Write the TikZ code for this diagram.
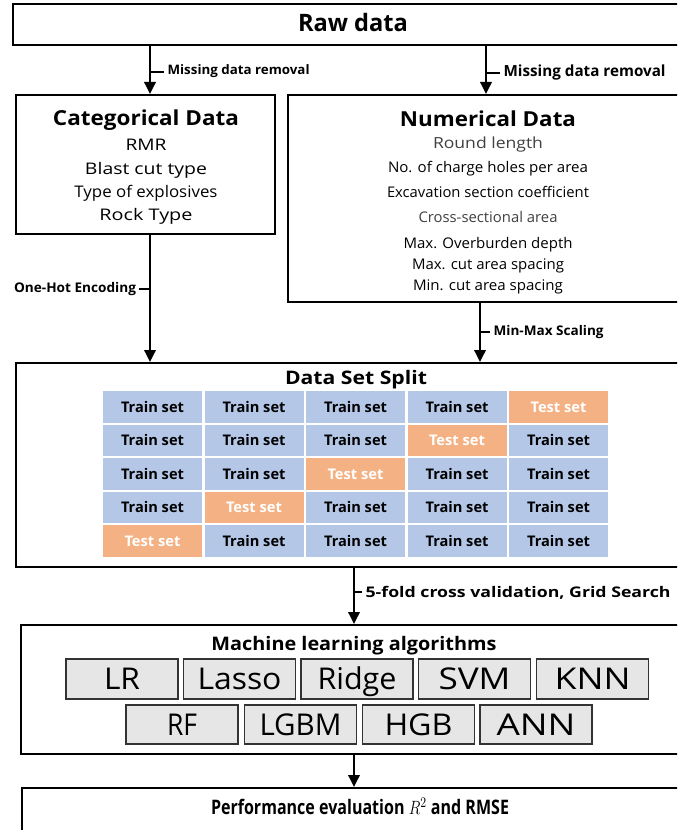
\documentclass[tikz,border=0pt]{standalone}
\usepackage{fontspec}
\setmainfont{Open Sans}
\usetikzlibrary{arrows.meta,fit}
\newlength\pxu \setlength\pxu{0.75pt}
\newcommand{\tx}[3]{{\fontsize{#1}{#1}\selectfont\resizebox{#2\pxu}{\height}{#3}}}
\definecolor{trainc}{HTML}{B4C7E7}
\definecolor{testc}{HTML}{F4B183}
\definecolor{algc}{HTML}{E7E6E6}
\begin{document}
\begin{tikzpicture}[x=0.75pt,y=-0.75pt,
  box/.style={draw, line width=1.5pt, inner sep=0pt, fit={#1}},
  tl/.style={inner sep=0pt, anchor=base},
  lab/.style={inner ysep=0pt, inner xsep=2.5pt, anchor=base west},
  labe/.style={inner ysep=0pt, inner xsep=2pt, anchor=base east},
  arr/.style={line width=1.8pt, -{Triangle[length=9pt,width=8.5pt]}},
  tick/.style={line width=1.5pt},
  cell/.style={inner sep=0pt, minimum width=74.25pt, minimum height=23.7pt, text height=7.8pt, text depth=0pt, fill=#1},
  alg/.style={draw=black!80, line width=0.9pt, fill=algc, inner sep=0pt, minimum width=84pt, minimum height=#1, text height=16pt, text depth=0pt}
]
\useasboundingbox (0,0) rectangle (677,830);
\clip (0,0) rectangle (677,830);
\fill[white] (0,0) rectangle (677,830);

\coordinate (c1) at (150,0);
\coordinate (c2) at (486,0);
\coordinate (c3) at (480,0);
\coordinate (c4) at (354,0);

% boxes
\node[box={(13,4) (700,45)}] (raw) {};
\node[box={(16,95) (275,234)}] (cat) {};
\node[box={(288,95) (700,302)}] (num) {};
\node[box={(16,363) (700,567)}] (split) {};
\node[box={(21,625) (700,754)}] (ml) {};
\node[box={(22,788) (700,850)}] (perf) {};

% texts
\node[tl] (rawt) at (353,32) {\tx{18}{110}{\textbf{Raw data}}};

\node[tl] (catt) at (146,126) {\tx{15.5}{186}{\textbf{Categorical Data}}};
\node[tl] (cat1) at (146,151) {\tx{12}{41}{RMR}};
\node[tl] (cat2) at (146,175) {\tx{12}{122}{Blast cut type}};
\node[tl] (cat3) at (146,198) {\tx{12}{143}{Type of explosives}};
\node[tl] (cat4) at (146,221) {\tx{12}{93}{Rock Type}};

\node[tl] (numt) at (488,127) {\tx{15.5}{176}{\textbf{Numerical Data}}};
\node[tl] (num1) at (488,149) {\tx{11.5}{110}{\textcolor{black!75}{Round length}}};
\node[tl] (num2) at (488,173) {\tx{11}{200}{No. of charge holes per area}};
\node[tl] (num3) at (488,198) {\tx{11}{202}{Excavation section coefficient}};
\node[tl] (num4) at (488,223) {\tx{11}{139}{\textcolor{black!75}{Cross-sectional area}}};
\node[tl] (num5) at (488,248) {\tx{11}{169}{Max. Overburden depth}};
\node[tl] (num6) at (488,269) {\tx{11}{152}{Max. cut area spacing}};
\node[tl] (num7) at (488,290) {\tx{11}{150}{Min. cut area spacing}};

\node[tl] (splitt) at (356,384) {\tx{14}{142}{\textbf{Data Set Split}}};
\node[tl] (mlt) at (354,650) {\tx{14}{285}{\textbf{Machine learning algorithms}}};
\node[tl] (perft) at (360,814) {\tx{15}{298}{\textbf{Performance evaluation} $R^2$ \textbf{and RMSE}}};

% grid
\foreach \r in {1,...,5}{
  \foreach \c in {1,...,5}{
    \pgfmathsetmacro\cx{152.5+(\c-1)*101.5}
    \pgfmathsetmacro\cy{406.8+(\r-1)*33.6}
    \pgfmathtruncatemacro\tst{(\r+\c==6)?1:0}
    \ifnum\tst=1
      \node[cell=testc] (cell-\r-\c) at (\cx,\cy) {\tx{11}{56}{\textcolor{white}{\textbf{Test set}}}};
    \else
      \node[cell=trainc] (cell-\r-\c) at (\cx,\cy) {\tx{11}{63}{\textbf{Train set}}};
    \fi
  }
}

% algorithms
\node[alg=30pt] (lr) at (122,679) {\tx{22.5}{36}{LR}};
\node[alg=30pt] (lasso) at (239.5,679) {\tx{22.5}{84}{Lasso}};
\node[alg=30pt] (ridge) at (357,679) {\tx{22.5}{79}{Ridge}};
\node[alg=30pt] (svm) at (474.5,679) {\tx{22.5}{72}{SVM}};
\node[alg=30pt] (knn) at (592.5,679) {\tx{22.5}{76}{KNN}};
\node[alg=29.25pt] (rf) at (182,724.5) {\tx{22.5}{30}{RF}};
\node[alg=29.25pt] (lgbm) at (300.5,724.5) {\tx{22.5}{82}{LGBM}};
\node[alg=29.25pt] (hgb) at (418.5,724.5) {\tx{22.5}{68}{HGB}};
\node[alg=29.25pt] (ann) at (536,724.5) {\tx{22.5}{79}{ANN}};

% connectors
\draw[arr] (raw.south -| c1) -- (cat.north -| c1);
\draw[arr] (raw.south -| c2) -- (num.north -| c2);
\draw[arr] (cat.south -| c1) -- (split.north -| c1);
\draw[arr] (num.south -| c3) -- (split.north -| c3);
\draw[arr] (split.south -| c4) -- (ml.north -| c4);
\draw[arr] (ml.south -| c4) -- (perf.north -| c4);

% labels
\node[lab] (m1) at (164,75) {\tx{9.8}{142}{\textbf{Missing data removal}}};
\draw[tick] (m1.west -| c1) -- (m1.west);
\node[lab] (m2) at (500,77) {\tx{11.5}{162}{\textbf{Missing data removal}}};
\draw[tick] (m2.west -| c2) -- (m2.west);
\node[labe] (oh) at (139,292) {\tx{10}{122}{\textbf{One-Hot Encoding}}};
\draw[tick] (oh.east -| c1) -- (oh.east);
\node[lab] (mm) at (490,335) {\tx{10}{110}{\textbf{Min-Max Scaling}}};
\draw[tick] (mm.west -| c3) -- (mm.west);
\node[lab] (kf) at (362,597) {\tx{11}{305}{\textbf{5-fold cross validation, Grid Search}}};
\draw[tick] (kf.west -| c4) -- (kf.west);
\end{tikzpicture}
\end{document}
